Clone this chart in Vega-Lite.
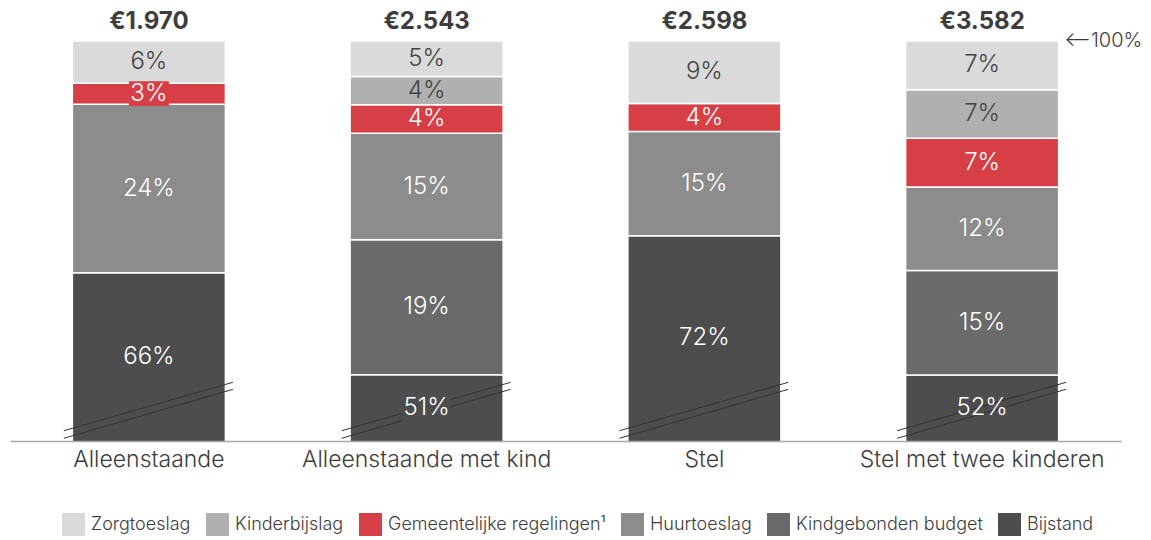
{
  "$schema": "https://vega.github.io/schema/vega-lite/v6.json",
  "width": 1111,
  "height": 441,
  "padding": {"left": 10, "top": 0, "right": 0, "bottom": 0},
  "autosize": {"type": "pad"},
  "background": "white",
  "config": {
    "view": {"stroke": null},
    "font": "Inter",
    "locale": {"number": {"decimal": ",", "thousands": ".", "grouping": [3], "currency": ["€", ""]}},
    "legend": {
      "orient": "none",
      "legendX": 52,
      "legendY": 513,
      "direction": "horizontal",
      "symbolType": "square",
      "symbolSize": 529,
      "symbolStrokeWidth": 0,
      "symbolOpacity": 1,
      "labelFontSize": 18,
      "labelFont": "Inter",
      "labelFontWeight": 300,
      "labelColor": "#3d3d3d",
      "labelOffset": 6,
      "labelLimit": 0,
      "columnPadding": 15
    }
  },
  "datasets": {
    "parts": [
      {"group": "Alleenstaande", "part": "Bijstand", "share": 0.66, "k": 1},
      {"group": "Alleenstaande", "part": "Huurtoeslag", "share": 0.24, "k": 3},
      {"group": "Alleenstaande", "part": "Gemeentelijke regelingen¹", "share": 0.03, "k": 4},
      {"group": "Alleenstaande", "part": "Zorgtoeslag", "share": 0.06, "k": 6},
      {"group": "Alleenstaande met kind", "part": "Bijstand", "share": 0.51, "k": 1},
      {"group": "Alleenstaande met kind", "part": "Kindgebonden budget", "share": 0.19, "k": 2},
      {"group": "Alleenstaande met kind", "part": "Huurtoeslag", "share": 0.15, "k": 3},
      {"group": "Alleenstaande met kind", "part": "Gemeentelijke regelingen¹", "share": 0.04, "k": 4},
      {"group": "Alleenstaande met kind", "part": "Kinderbijslag", "share": 0.04, "k": 5},
      {"group": "Alleenstaande met kind", "part": "Zorgtoeslag", "share": 0.05, "k": 6},
      {"group": "Stel", "part": "Bijstand", "share": 0.72, "k": 1},
      {"group": "Stel", "part": "Huurtoeslag", "share": 0.15, "k": 3},
      {"group": "Stel", "part": "Gemeentelijke regelingen¹", "share": 0.04, "k": 4},
      {"group": "Stel", "part": "Zorgtoeslag", "share": 0.09, "k": 6},
      {"group": "Stel met twee kinderen", "part": "Bijstand", "share": 0.52, "k": 1},
      {"group": "Stel met twee kinderen", "part": "Kindgebonden budget", "share": 0.15, "k": 2},
      {"group": "Stel met twee kinderen", "part": "Huurtoeslag", "share": 0.12, "k": 3},
      {"group": "Stel met twee kinderen", "part": "Gemeentelijke regelingen¹", "share": 0.07, "k": 4},
      {"group": "Stel met twee kinderen", "part": "Kinderbijslag", "share": 0.07, "k": 5},
      {"group": "Stel met twee kinderen", "part": "Zorgtoeslag", "share": 0.07, "k": 6}
    ],
    "totals": [
      {"group": "Alleenstaande", "total": 1970},
      {"group": "Alleenstaande met kind", "total": 2543},
      {"group": "Stel", "total": 2598},
      {"group": "Stel met twee kinderen", "total": 3582}
    ]
  },
  "layer": [
    {
      "data": {"name": "parts"},
      "transform": [
        {"stack": "share", "groupby": ["group"], "sort": [{"field": "k", "order": "ascending"}], "offset": "normalize", "as": ["y0", "y1"]}
      ],
      "mark": {"type": "bar", "clip": true, "stroke": "white", "strokeWidth": 1.5},
      "encoding": {
        "x": {
          "field": "group",
          "type": "nominal",
          "scale": {
            "domain": ["Alleenstaande", "Alleenstaande met kind", "Stel", "Stel met twee kinderen"],
            "paddingInner": 0.449,
            "paddingOuter": 0.2245
          },
          "axis": {
            "title": null,
            "ticks": false,
            "grid": false,
            "domainColor": "#a8a8a8",
            "domainWidth": 1.5,
            "labelFontSize": 23,
            "labelFont": "Inter",
            "labelFontWeight": 300,
            "labelColor": "#3d3d3d",
            "labelPadding": 7,
            "labelLimit": 400,
            "labelAngle": 0,
            "zindex": 1
          }
        },
        "y": {"field": "y1", "type": "quantitative", "scale": {"domain": [0.425, 1.0589], "nice": false, "zero": false}, "axis": null},
        "y2": {"field": "y0"},
        "color": {
          "field": "part",
          "type": "nominal",
          "scale": {
            "domain": ["Zorgtoeslag", "Kinderbijslag", "Gemeentelijke regelingen¹", "Huurtoeslag", "Kindgebonden budget", "Bijstand"],
            "range": ["#dadada", "#b0b0b0", "#d63f46", "#8c8c8c", "#6a6a6a", "#4d4d4d"]
          },
          "legend": {"title": null}
        }
      }
    },
    {
      "data": {"name": "totals"},
      "mark": {"type": "rule", "xOffset": -85, "x2Offset": 84, "color": "#333333", "strokeWidth": 1},
      "encoding": {
        "x": {"field": "group", "type": "nominal"},
        "x2": {"field": "group"},
        "y": {"datum": 0.4398, "type": "quantitative", "axis": null},
        "y2": {"datum": 0.5094}
      }
    },
    {
      "data": {"name": "totals"},
      "mark": {"type": "rule", "xOffset": -85, "x2Offset": 84, "color": "#333333", "strokeWidth": 1},
      "encoding": {
        "x": {"field": "group", "type": "nominal"},
        "x2": {"field": "group"},
        "y": {"datum": 0.4289, "type": "quantitative", "axis": null},
        "y2": {"datum": 0.4993}
      }
    },
    {
      "data": {"name": "parts"},
      "transform": [
        {"stack": "share", "groupby": ["group"], "sort": [{"field": "k", "order": "ascending"}], "offset": "normalize", "as": ["y0", "y1"]},
        {"calculate": "(max(datum.y0, 0.425) + datum.y1) / 2", "as": "ym"},
        {"filter": "(datum.group === 'Alleenstaande' && datum.part === 'Gemeentelijke regelingen¹') || (datum.group === 'Alleenstaande met kind' && datum.part === 'Bijstand')"}
      ],
      "mark": {"type": "point", "shape": "M-1,-0.62H1V0.62H-1Z", "filled": true, "opacity": 1, "strokeWidth": 0},
      "encoding": {
        "x": {"field": "group", "type": "nominal"},
        "y": {"field": "ym", "type": "quantitative", "axis": null},
        "color": {"condition": {"test": "datum.part === 'Bijstand'", "value": "#4d4d4d"}, "value": "#d63f46"},
        "size": {"condition": {"test": "datum.part === 'Bijstand'", "value": 2401}, "value": 1600}
      }
    },
    {
      "data": {"name": "parts"},
      "transform": [
        {"stack": "share", "groupby": ["group"], "sort": [{"field": "k", "order": "ascending"}], "offset": "normalize", "as": ["y0", "y1"]},
        {"calculate": "(max(datum.y0, 0.425) + datum.y1) / 2", "as": "ym"}
      ],
      "mark": {"type": "text", "fontSize": 24, "fontWeight": 300, "baseline": "middle", "align": "center", "font": "Inter"},
      "encoding": {
        "x": {"field": "group", "type": "nominal"},
        "y": {"field": "ym", "type": "quantitative", "axis": null},
        "text": {"field": "share", "type": "quantitative", "format": ".0%"},
        "color": {"condition": {"test": "datum.part === 'Zorgtoeslag' || datum.part === 'Kinderbijslag'", "value": "#444444"}, "value": "#ffffff"}
      }
    },
    {
      "data": {"name": "totals"},
      "mark": {"type": "text", "fontSize": 24, "fontWeight": "bold", "baseline": "alphabetic", "dy": -12, "color": "#3d3d3d", "font": "Inter"},
      "encoding": {
        "x": {"field": "group", "type": "nominal"},
        "y": {"datum": 1, "type": "quantitative", "axis": null},
        "text": {"field": "total", "type": "quantitative", "format": "$,.0f"}
      }
    },
    {
      "data": {"values": [{}]},
      "mark": {"type": "text", "align": "left", "baseline": "middle", "dx": 82, "fontSize": 20, "fontWeight": 300, "color": "#3d3d3d", "font": "Inter, DejaVu Sans", "text": "⟵100%"},
      "encoding": {
        "x": {"datum": "Stel met twee kinderen", "type": "nominal"},
        "y": {"datum": 1, "type": "quantitative", "axis": null}
      }
    }
  ]
}
